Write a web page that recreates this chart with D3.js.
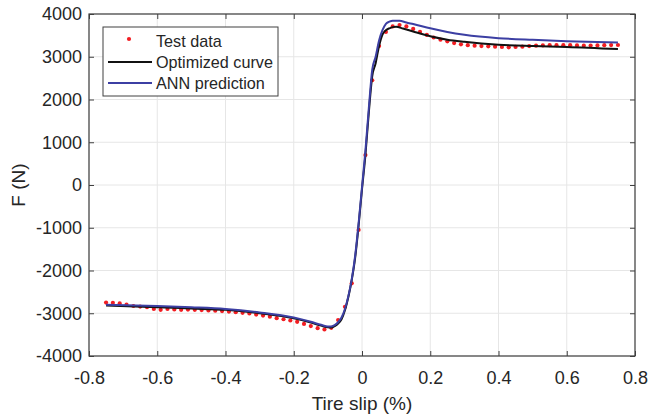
<!DOCTYPE html>
<html>
<head>
<meta charset="utf-8">
<script src="https://cdn.jsdelivr.net/npm/d3@7"></script>
<style>
  body { margin: 0; background: #fff; }
  text { font-family: "Liberation Sans", Arial, sans-serif; fill: #262626; }
</style>
</head>
<body>
<div id="chart-area"></div>
<script>
// test data (slip, force)
var testSlip = [-0.75,-0.73,-0.71,-0.69,-0.67,-0.65,-0.63,-0.61,-0.59,-0.57,-0.55,-0.53,-0.51,-0.49,-0.47,-0.45,-0.43,-0.41,-0.39,-0.37,
  -0.35,-0.33,-0.31,-0.29,-0.27,-0.25,-0.23,-0.21,-0.19,-0.17,-0.15,-0.13,-0.11,-0.09,-0.07,-0.05,-0.03,-0.01,
  0.01,0.03,0.05,0.07,0.09,0.11,0.13,0.15,0.17,0.19,0.21,0.23,0.25,0.27,0.29,0.31,0.33,0.35,0.37,0.39,
  0.41,0.43,0.45,0.47,0.49,0.51,0.53,0.55,0.57,0.59,0.61,0.63,0.65,0.67,0.69,0.71,0.73,0.75];
var testForce = [-2750,-2755,-2770,-2800,-2830,-2845,-2860,-2900,-2920,-2900,-2910,-2920,-2915,-2920,-2925,-2935,-2940,-2950,-2960,-2975,
  -2990,-3005,-3030,-3055,-3080,-3115,-3140,-3170,-3200,-3250,-3300,-3350,-3380,-3340,-3160,-2850,-2300,-1050,
  700,2450,3250,3580,3710,3740,3710,3650,3580,3510,3450,3400,3360,3320,3290,3270,3260,3250,3245,3235,
  3230,3220,3230,3235,3250,3260,3265,3270,3270,3270,3270,3265,3260,3262,3265,3270,3272,3275];

// optimized curve
var optSlip = [-0.75,-0.6,-0.5,-0.4,-0.3,-0.2,-0.15,-0.12,-0.1,-0.09,-0.08,-0.07,-0.06,-0.05,-0.04,-0.03,-0.02,-0.01,
  0,0.01,0.02,0.03,0.04,0.05,0.06,0.07,0.08,0.1,0.12,0.15,0.2,0.25,0.3,0.4,0.5,0.6,0.75];
var optForce = [-2820,-2860,-2890,-2920,-3000,-3120,-3220,-3290,-3330,-3335,-3300,-3240,-3140,-2930,-2620,-2220,-1700,-950,
  -100,700,1700,2550,2850,3250,3520,3620,3665,3700,3660,3590,3480,3400,3350,3280,3250,3230,3180];

// ANN prediction
var annSlip = [-0.75,-0.6,-0.5,-0.4,-0.3,-0.2,-0.15,-0.12,-0.1,-0.09,-0.08,-0.07,-0.06,-0.05,-0.04,-0.03,-0.02,-0.01,
  0,0.01,0.02,0.03,0.04,0.05,0.06,0.07,0.08,0.09,0.11,0.13,0.15,0.2,0.25,0.3,0.4,0.5,0.6,0.75];
var annForce = [-2800,-2830,-2860,-2900,-2980,-3100,-3200,-3270,-3310,-3310,-3280,-3210,-3100,-2900,-2600,-2200,-1650,-900,
  -50,800,1800,2700,3000,3380,3620,3770,3820,3845,3845,3800,3765,3665,3580,3515,3435,3395,3365,3335];

var xTicks = [-0.8,-0.6,-0.4,-0.2,0,0.2,0.4,0.6,0.8];
var yTicks = [-4000,-3000,-2000,-1000,0,1000,2000,3000,4000];

var margin = { left:89, right:14, top:14, bottom:58 };
var width = 649 - margin.left - margin.right,
    height = 414 - margin.top - margin.bottom;

var svg = d3.select("#chart-area")
    .append("svg")
        .attr("width", 649)
        .attr("height", 414);
var g = svg.append("g")
    .attr("transform", "translate(" + margin.left + "," + margin.top + ")");

var x = d3.scaleLinear().domain([-0.8, 0.8]).range([0, width]);
var y = d3.scaleLinear().domain([-4000, 4000]).range([height, 0]);

// grid
g.selectAll(".gx").data(xTicks).enter().append("line")
    .attr("x1", function(d){ return x(d); }).attr("x2", function(d){ return x(d); })
    .attr("y1", 0).attr("y2", height)
    .attr("stroke", "#e6e6e6").attr("stroke-width", 1);
g.selectAll(".gy").data(yTicks).enter().append("line")
    .attr("y1", function(d){ return y(d); }).attr("y2", function(d){ return y(d); })
    .attr("x1", 0).attr("x2", width)
    .attr("stroke", "#e6e6e6").attr("stroke-width", 1);

// axes (ticks inside, box) - plain hyphen for negatives like matlab
var plain = function(d){ return String(d); };
function styleAxis(sel) {
    sel.select(".domain").remove();
    sel.selectAll(".tick line").attr("stroke", "#404040");
    sel.selectAll(".tick text").attr("font-size", "18px").attr("fill", "#262626")
        .attr("font-family", "'Liberation Sans', Arial, sans-serif");
}
g.append("g").attr("transform", "translate(0," + height + ")")
    .call(d3.axisBottom(x).tickValues(xTicks).tickSizeInner(-5).tickPadding(15).tickFormat(plain))
    .call(styleAxis);
g.append("g")
    .call(d3.axisTop(x).tickValues(xTicks).tickSizeInner(-5).tickFormat(""))
    .call(styleAxis);
g.append("g")
    .call(d3.axisLeft(y).tickValues(yTicks).tickSizeInner(-5).tickPadding(7).tickFormat(plain))
    .call(styleAxis);
g.append("g").attr("transform", "translate(" + width + ",0)")
    .call(d3.axisRight(y).tickValues(yTicks).tickSizeInner(-5).tickFormat(""))
    .call(styleAxis);

// series
var line = d3.line()
    .x(function(d){ return x(d[0]); })
    .y(function(d){ return y(d[1]); })
    .curve(d3.curveMonotoneX);

g.selectAll(".dot").data(d3.zip(testSlip, testForce)).enter().append("circle")
    .attr("cx", function(d){ return x(d[0]); })
    .attr("cy", function(d){ return y(d[1]); })
    .attr("r", 2.1)
    .attr("fill", "#f21d22");

g.append("path").datum(d3.zip(optSlip, optForce))
    .attr("d", line).attr("fill", "none")
    .attr("stroke", "#111").attr("stroke-width", 2);

g.append("path").datum(d3.zip(annSlip, annForce))
    .attr("d", line).attr("fill", "none")
    .attr("stroke", "#3c3fa3").attr("stroke-width", 2);

// box
g.append("rect").attr("width", width).attr("height", height)
    .attr("fill", "none").attr("stroke", "#404040").attr("stroke-width", 1.2);

// labels
svg.append("text")
    .attr("x", margin.left + width / 2).attr("y", 410)
    .attr("text-anchor", "middle").attr("font-size", "19px")
    .text("Tire slip (%)");
svg.append("text")
    .attr("transform", "translate(25," + (margin.top + height / 2) + ") rotate(-90)")
    .attr("text-anchor", "middle").attr("font-size", "19px")
    .text("F (N)");

// legend
var lg = svg.append("g").attr("transform", "translate(103,27)");
lg.append("rect").attr("width", 175).attr("height", 69)
    .attr("fill", "#fff").attr("stroke", "#404040").attr("stroke-width", 1);
var items = ["Test data", "Optimized curve", "ANN prediction"];
items.forEach(function(name, i) {
    var cy = 14 + i * 21;
    if (i === 0) {
        lg.append("circle").attr("cx", 26).attr("cy", cy - 2).attr("r", 2.1).attr("fill", "#f21d22");
    } else {
        lg.append("line").attr("x1", 5).attr("x2", 49).attr("y1", cy).attr("y2", cy)
            .attr("stroke", i === 1 ? "#111" : "#3c3fa3").attr("stroke-width", 2);
    }
    lg.append("text").attr("x", 53).attr("y", cy).attr("dy", "0.35em")
        .attr("font-size", "16.2px").text(name);
});
</script>
</body>
</html>
